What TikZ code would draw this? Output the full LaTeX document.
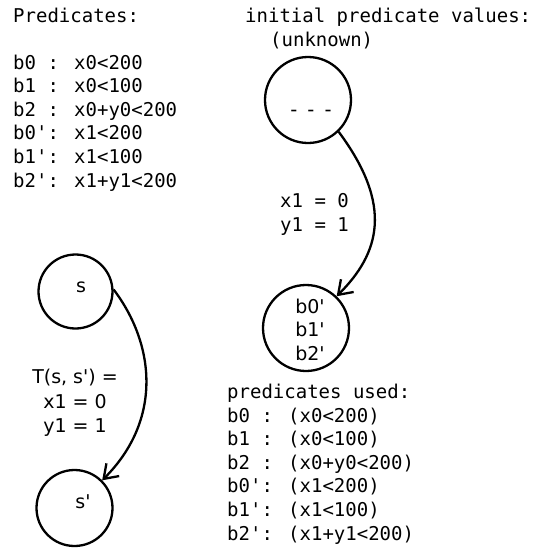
\documentclass[tikz,border=0pt]{standalone}
\usepackage{fontspec}
\newfontfamily\monof{DejaVu Sans Mono}
\newfontfamily\sansf{DejaVu Sans}
\usetikzlibrary{arrows.meta}
\begin{document}
\begin{tikzpicture}[x=1pt,y=-1pt,
  mono/.style={font=\monof\fontsize{19}{24}\selectfont, inner sep=0, anchor=base west},
  sanslbl/.style={font=\sansf\fontsize{19}{24}\selectfont, inner sep=0, anchor=base},
  state/.style={circle, draw, line width=2.3pt, inner sep=0},
  arr/.style={line width=2.3pt, -{Straight Barb[length=13pt,width=18pt,line width=2.3pt]}}
]
\useasboundingbox (0,0) rectangle (534,550);
% left predicate list
\node[mono] (ptitle) at (13,22) {Predicates:};
\node[mono] (p0) at (13,69) {b0 : x0<200};
\node[mono] (p1) at (13,92.6) {b1 : x0<100};
\node[mono] (p2) at (13,116.2) {b2 : x0+y0<200};
\node[mono] (p3) at (13,139.8) {b0': x1<200};
\node[mono] (p4) at (13,163.4) {b1': x1<100};
\node[mono] (p5) at (13,187) {b2': x1+y1<200};
% right top
\node[mono] (itit) at (245,22) {initial predicate values:};
\node[mono] (unk) at (270,46) {(unknown)};
\node[state, minimum size=86pt] (init) at (308,100) {};
\node[font=\monof\fontsize{20}{24}\selectfont, inner sep=0, anchor=base] (dash) at (311,116) {-\kern5pt-\kern5pt-};
\node[state, minimum size=86pt] (res) at (306,328) {};
\node[sanslbl] (rb0) at (310,313) {b0'};
\node[sanslbl] (rb1) at (310,336.5) {b1'};
\node[sanslbl] (rb2) at (310,360) {b2'};
\draw[arr] (init.-46) .. controls +(55,74) and +(43,-43) .. (res.46);
\node[mono] (ax) at (280,207) {x1 = 0};
\node[mono] (ay) at (280,231) {y1 = 1};
% predicates used
\node[mono] (ut) at (227,398) {predicates used:};
\node[mono] (u0) at (227,422) {b0 : (x0<200)};
\node[mono] (u1) at (227,445.6) {b1 : (x0<100)};
\node[mono] (u2) at (227,469.2) {b2 : (x0+y0<200)};
\node[mono] (u3) at (227,492.8) {b0': (x1<200)};
\node[mono] (u4) at (227,516.4) {b1': (x1<100)};
\node[mono] (u5) at (227,540) {b2': (x1+y1<200)};
% left transition
\node[state, minimum size=74pt] (s) at (75.5,291.5) {};
\node[sanslbl] (slbl) at (81,292) {s};
\node[state, minimum size=76pt] (sp) at (74.5,508) {};
\node[sanslbl] (splbl) at (83,508) {s'};
\draw[arr] (s.3) .. controls +(41,54) and +(61,-61) .. (sp.45);
\node[sanslbl] (t0) at (75,383) {T(s, s') =};
\node[sanslbl] (t1) at (75,408) {x1 = 0};
\node[sanslbl] (t2) at (75,432) {y1 = 1};
\end{tikzpicture}
\end{document}
